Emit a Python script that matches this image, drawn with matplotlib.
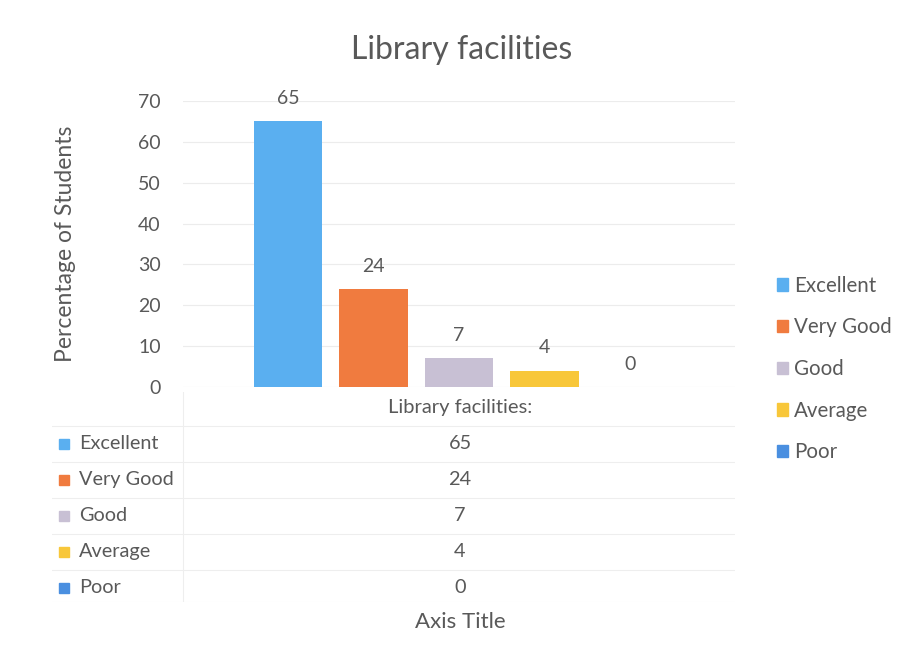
import matplotlib.pyplot as plt
from matplotlib.patches import Patch

categories = ['Excellent', 'Very Good', 'Good', 'Average', 'Poor']
values = [65, 24, 7, 4, 0]
colors = ['#5aaff0', '#f07b3f', '#c8c0d4', '#f8c73a', '#4a8fe0']
yticks = [0, 10, 20, 30, 40, 50, 60, 70]
table_header = 'Library facilities:'

plt.rcParams['font.family'] = ['Lato', 'DejaVu Sans']
grey = '#595959'

W, H = 908, 663
fig = plt.figure(figsize=(W / 100, H / 100), dpi=100)

def box(x0, y0, x1, y1):
    return [x0 / W, 1 - y1 / H, (x1 - x0) / W, (y1 - y0) / H]

ax = fig.add_axes(box(183, 101, 735, 387))
x = list(range(len(values)))
ax.bar(x, values, width=0.8, color=colors)
for xi, v in zip(x, values):
    ax.text(xi, v + 3.5, str(v), ha='center', va='bottom', fontsize=14, color=grey)
ax.set_xlim(-1.225, 5.225)
ax.set_ylim(0, 70)
ax.set_yticks(yticks)
ax.set_xticks([])
ax.tick_params(axis='y', length=0, labelsize=14, labelcolor=grey, pad=16)
ax.grid(axis='y', color='#ececec', linewidth=0.8)
ax.set_axisbelow(True)
for s in ax.spines.values():
    s.set_visible(False)
ax.set_ylabel('Percentage of Students', fontsize=16.5, color=grey, labelpad=45)

fig.text(462 / W, 1 - 50 / H, 'Library facilities', ha='center', va='center',
         fontsize=23, color=grey)

# data table
tab = fig.add_axes(box(52, 392, 735, 602))
tab.set_xlim(52, 735)
tab.set_ylim(602, 392)
tab.axis('off')
row_h = 36
y0 = 408
tab.text(460, y0, table_header, ha='center', va='center', fontsize=14.5, color=grey)
tab.plot([183, 183], [392, 602], color='#eeeeee', lw=0.8)
for i, (c, v, col) in enumerate(zip(categories, values, colors)):
    yy = y0 + row_h * (i + 1)
    tab.plot([52, 735], [yy - row_h / 2, yy - row_h / 2], color='#eeeeee', lw=0.8)
    tab.add_patch(plt.Rectangle((59, yy - 5), 10, 10, color=col))
    tab.text(79, yy, c, ha='left', va='center', fontsize=14.3, color=grey)
    tab.text(460, yy, str(v), ha='center', va='center', fontsize=14.3, color=grey)
tab.plot([52, 735], [602, 602], color='#eeeeee', lw=0.8)

fig.text(460 / W, 1 - 622 / H, 'Axis Title', ha='center', va='center',
         fontsize=16, color=grey)

handles = [Patch(color=c, label=l) for c, l in zip(colors, categories)]
fig.legend(handles=handles, loc='center left', bbox_to_anchor=(758 / W, 1 - 369 / H),
           frameon=False, fontsize=14.8, labelcolor=grey, handlelength=0.55,
           handleheight=0.55, handletextpad=0.3, labelspacing=1.05)

fig.savefig('out.png', dpi=100)
